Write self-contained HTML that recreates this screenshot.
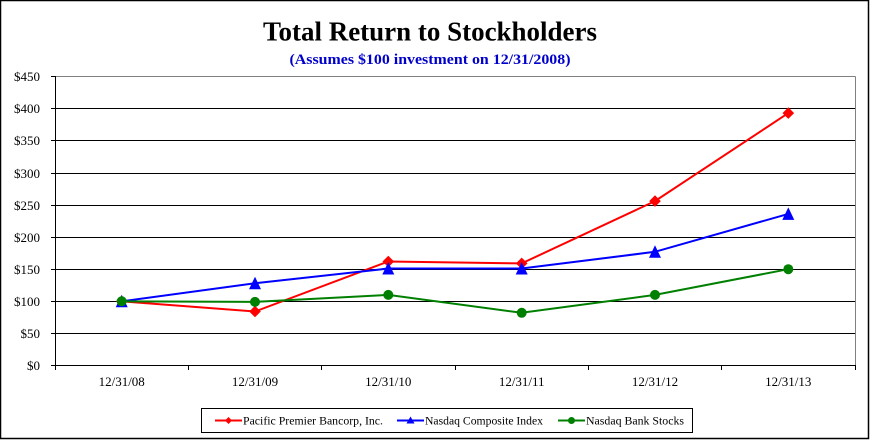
<!DOCTYPE html>
<html>
<head>
<meta charset="utf-8">
<style>
html,body{margin:0;padding:0;background:#fff;}
svg{display:block;}
text{font-family:"Liberation Serif","Times New Roman",serif;}
</style>
</head>
<body>
<svg width="870" height="440" viewBox="0 0 870 440" xmlns="http://www.w3.org/2000/svg">
<rect x="0" y="0" width="870" height="440" fill="#fff"/>
<rect x="0.5" y="0.5" width="868" height="438" fill="none" stroke="#000" stroke-width="1.5"/>

<!-- Titles -->
<text x="430" y="40.5" text-anchor="middle" font-size="27" font-weight="bold" fill="#000" textLength="334" lengthAdjust="spacingAndGlyphs">Total Return to Stockholders</text>
<text x="430" y="64" text-anchor="middle" font-size="15" font-weight="bold" fill="#0000CC" textLength="281" lengthAdjust="spacingAndGlyphs">(Assumes $100 investment  on 12/31/2008)</text>

<!-- Plot border (top/right gray) -->
<line x1="55" y1="76.5" x2="855.5" y2="76.5" stroke="#808080" stroke-width="1"/>
<line x1="855.5" y1="76.5" x2="855.5" y2="366" stroke="#808080" stroke-width="1"/>

<!-- Gridlines -->
<g stroke="#000" stroke-width="1">
<line x1="55" y1="108.5" x2="855" y2="108.5"/>
<line x1="55" y1="140.5" x2="855" y2="140.5"/>
<line x1="55" y1="173.5" x2="855" y2="173.5"/>
<line x1="55" y1="205.5" x2="855" y2="205.5"/>
<line x1="55" y1="237.5" x2="855" y2="237.5"/>
<line x1="55" y1="269.5" x2="855" y2="269.5"/>
<line x1="55" y1="301.5" x2="855" y2="301.5"/>
<line x1="55" y1="333.5" x2="855" y2="333.5"/>
<!-- axes -->
<line x1="55.5" y1="76" x2="55.5" y2="370"/>
<line x1="51" y1="365.5" x2="856" y2="365.5"/>
<!-- y ticks -->
<line x1="51" y1="76.5" x2="55" y2="76.5"/>
<line x1="51" y1="108.5" x2="55" y2="108.5"/>
<line x1="51" y1="140.5" x2="55" y2="140.5"/>
<line x1="51" y1="173.5" x2="55" y2="173.5"/>
<line x1="51" y1="205.5" x2="55" y2="205.5"/>
<line x1="51" y1="237.5" x2="55" y2="237.5"/>
<line x1="51" y1="269.5" x2="55" y2="269.5"/>
<line x1="51" y1="301.5" x2="55" y2="301.5"/>
<line x1="51" y1="333.5" x2="55" y2="333.5"/>
<!-- x ticks -->
<line x1="188.5" y1="365" x2="188.5" y2="370"/>
<line x1="321.5" y1="365" x2="321.5" y2="370"/>
<line x1="455.5" y1="365" x2="455.5" y2="370"/>
<line x1="588.5" y1="365" x2="588.5" y2="370"/>
<line x1="721.5" y1="365" x2="721.5" y2="370"/>
<line x1="855.5" y1="365" x2="855.5" y2="370"/>
</g>

<!-- Y labels -->
<g font-size="13" fill="#000" text-anchor="end">
<text x="40" y="81">$450</text>
<text x="40" y="113">$400</text>
<text x="40" y="145">$350</text>
<text x="40" y="178">$300</text>
<text x="40" y="210">$250</text>
<text x="40" y="242">$200</text>
<text x="40" y="274">$150</text>
<text x="40" y="306">$100</text>
<text x="40" y="338">$50</text>
<text x="40" y="370">$0</text>
</g>

<!-- X labels -->
<g font-size="13" fill="#000" text-anchor="middle">
<text x="121.7" y="386">12/31/08</text>
<text x="255" y="386">12/31/09</text>
<text x="388.3" y="386">12/31/10</text>
<text x="521.7" y="386">12/31/11</text>
<text x="655" y="386">12/31/12</text>
<text x="788.3" y="386">12/31/13</text>
</g>

<defs>
<path id="dia" d="M0,-5.8 L5.8,0 L0,5.8 L-5.8,0 Z"/>
<path id="tri" d="M0,-6.5 L6,6 L-6,6 Z"/>
</defs>

<!-- Red series -->
<polyline fill="none" stroke="#FF0000" stroke-width="2" points="121.7,301.3 255,311.5 388.3,261.5 521.7,263.4 655,201.1 788.3,113.1"/>
<g fill="#FF0000">
<use href="#dia" x="121.7" y="301.3"/>
<use href="#dia" x="255" y="311.5"/>
<use href="#dia" x="388.3" y="261.5"/>
<use href="#dia" x="521.7" y="263.4"/>
<use href="#dia" x="655" y="201.1"/>
<use href="#dia" x="788.3" y="113.1"/>
</g>

<!-- Blue series -->
<polyline fill="none" stroke="#0000FF" stroke-width="2" points="121.7,301.3 255,283.3 388.3,268.5 521.7,268.5 655,251.8 788.3,213.9"/>
<g fill="#0000FF">
<use href="#tri" x="121.7" y="301.3"/>
<use href="#tri" x="255" y="283.3"/>
<use href="#tri" x="388.3" y="268.5"/>
<use href="#tri" x="521.7" y="268.5"/>
<use href="#tri" x="655" y="251.8"/>
<use href="#tri" x="788.3" y="213.9"/>
</g>

<!-- Green series -->
<polyline fill="none" stroke="#008000" stroke-width="2" points="121.7,301.3 255,301.9 388.3,294.9 521.7,312.8 655,294.9 788.3,269.2"/>
<g fill="#008000">
<circle cx="121.7" cy="301.3" r="5"/>
<circle cx="255" cy="301.9" r="5"/>
<circle cx="388.3" cy="294.9" r="5"/>
<circle cx="521.7" cy="312.8" r="5"/>
<circle cx="655" cy="294.9" r="5"/>
<circle cx="788.3" cy="269.2" r="5"/>
</g>

<!-- Legend -->
<rect x="201.5" y="408.5" width="491" height="24" fill="#fff" stroke="#000" stroke-width="1"/>
<line x1="215" y1="420.5" x2="242" y2="420.5" stroke="#FF0000" stroke-width="2"/>
<path d="M228.5,417 L232,420.5 L228.5,424 L225,420.5 Z" fill="#FF0000"/>
<text x="243" y="424.5" font-size="12" fill="#000" textLength="140" lengthAdjust="spacingAndGlyphs">Pacific Premier Bancorp, Inc.</text>

<line x1="397" y1="420.5" x2="424" y2="420.5" stroke="#0000FF" stroke-width="2"/>
<path d="M410.5,416.5 L414.5,423.5 L406.5,423.5 Z" fill="#0000FF"/>
<text x="425" y="424.5" font-size="12" fill="#000" textLength="118" lengthAdjust="spacingAndGlyphs">Nasdaq Composite Index</text>

<line x1="558" y1="420.5" x2="585" y2="420.5" stroke="#008000" stroke-width="2"/>
<circle cx="571.5" cy="420.5" r="3.5" fill="#008000"/>
<text x="586" y="424.5" font-size="12" fill="#000" textLength="98" lengthAdjust="spacingAndGlyphs">Nasdaq Bank Stocks</text>
</svg>
</body>
</html>
